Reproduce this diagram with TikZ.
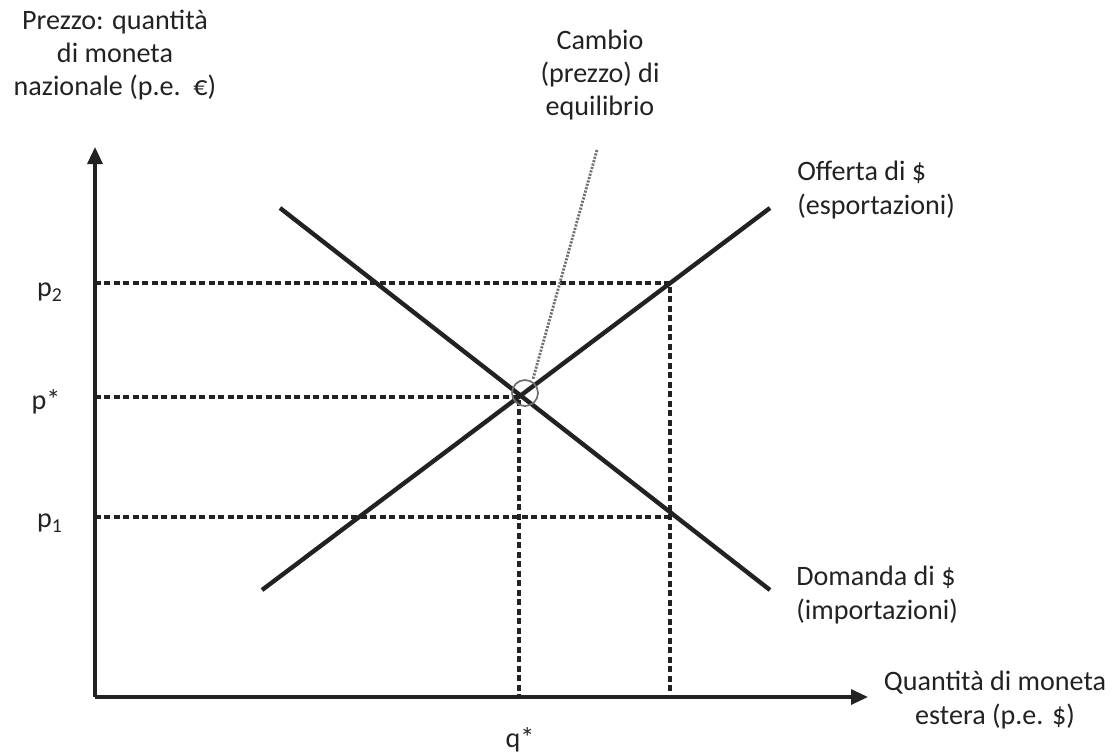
\documentclass[tikz,border=0pt]{standalone}
\usepackage{fontspec}
\setmainfont{Carlito}
\usetikzlibrary{arrows.meta}
\definecolor{cink}{HTML}{222222}
\definecolor{cmuted}{HTML}{707070}

\begin{document}
\begin{tikzpicture}[x=0.02cm, y=-0.02cm,
    lab/.style={font=\fontsize{16}{19}\selectfont, align=center, text=cink, inner sep=0pt},
    tick/.style={font=\fontsize{16}{19}\selectfont, text=cink, inner sep=0pt},
    ax/.style={-{Triangle[length=3.4mm, width=3mm]}, cink, line width=1.8pt},
    curve/.style={cink, line width=2.5pt},
    guide/.style={cink, line width=1.8pt, dash pattern=on 3.4pt off 2pt},
    pt/.style={cmuted, line width=1.6pt, dash pattern=on 1.2pt off 0.8pt}]
  \useasboundingbox (0,0) rectangle (1119,755);

  % axes
  \coordinate (O) at (95,697);
  \coordinate (ytop) at (95,147);
  \coordinate (xend) at (868,697);
  \draw[ax] (O) -- (ytop);
  \draw[ax] (O) -- (xend);

  % equilibrium and the two other points
  \coordinate (E) at (519,397);
  \coordinate (A) at (670,283);
  \coordinate (B) at (671,517);
  \draw[guide] (95,283) -- (A) -- (670,697);
  \draw[guide] (95,517) -- (B);
  \draw[guide] (95,397) -- (E) -- (519,697);

  % supply and demand
  \draw[curve] (262,590) coordinate (s0) -- (770,208) coordinate (s1);
  \draw[curve] (280,208) coordinate (d0) -- (770,590) coordinate (d1);

  \draw[cmuted, line width=1pt] (525,393) circle (13);
  \coordinate (ptr) at (597,150);
  \draw[pt] (ptr) -- (533,379);

  % labels
  \node[tick] (lp2) at (50,292) {p\textsubscript{2}};
  \node[tick] (lps) at (46,402) {p*};
  \node[tick] (lp1) at (50,523) {p\textsubscript{1}};
  \node[tick] (lq) at (520,740) {q*};

  \node[lab] (ly) at (115,55) {Prezzo: quantità\\di moneta\\nazionale (p.e.\ \ €)};
  \node[lab] (lx) at (995,700) {Quantità di moneta\\estera (p.e. \$)};
  \node[lab] (leq) at (600,75) {Cambio\\(prezzo) di\\equilibrio};
  \node[lab, align=left, anchor=west] (ls) at (797,190) {Offerta di \$\\(esportazioni)};
  \node[lab, align=left, anchor=west] (ld) at (796,595) {Domanda di \$\\(importazioni)};
\end{tikzpicture}
\end{document}
